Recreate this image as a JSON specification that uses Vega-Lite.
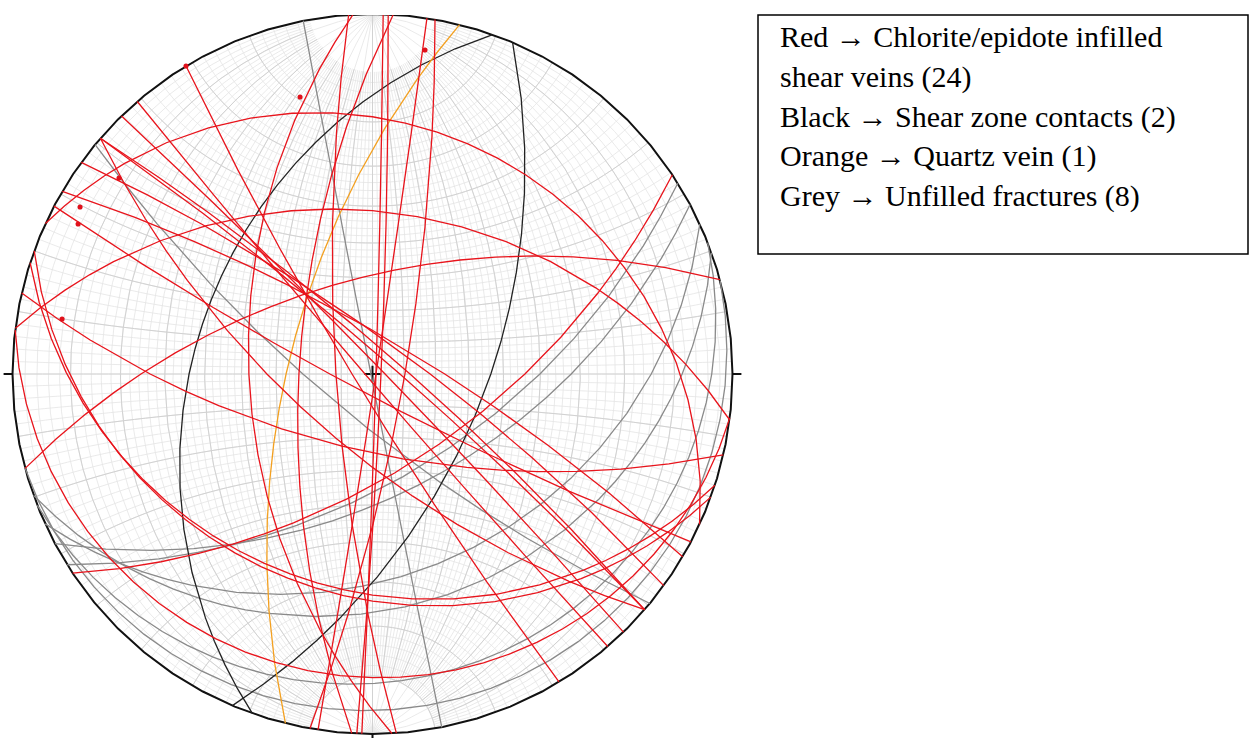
{
  "$schema": "https://vega.github.io/schema/vega-lite/v6.json",
  "padding": {"top": 14, "left": 0, "right": 0, "bottom": 0},
  "spacing": 12,
  "background": "white",
  "config": {"view": {"stroke": null}},
  "hconcat": [
    {
      "width": 745,
      "height": 724,
      "projection": {"type": "stereographic", "scale": 360, "translate": [372.5, 359], "rotate": [0, 0, 0]},
      "layer": [
        {
          "data": {"graticule": {"extentMajor": [[-90, -90], [90, 90]], "extentMinor": [[-90, -80], [90, 80]], "stepMinor": [2, 2], "stepMajor": [10, 360]}},
          "mark": {"type": "geoshape", "filled": false, "stroke": "#e4e4e4", "strokeWidth": 0.8}
        },
        {
          "data": {"graticule": {"extentMajor": [[-90, -90], [90, 90]], "extentMinor": [[-90, -80], [90, 80]], "stepMinor": [10, 10], "stepMajor": [90, 360]}},
          "mark": {"type": "geoshape", "filled": false, "stroke": "#d2d2d2", "strokeWidth": 1}
        },
        {
          "data": {"values": [
            {"part": "primitive", "geo": {"type": "MultiLineString", "coordinates": [[[90, -90], [90, -45], [90, 0], [90, 45], [90, 90]], [[-90, -90], [-90, -45], [-90, 0], [-90, 45], [-90, 90]]]}},
            {"part": "ticks", "geo": {"type": "MultiLineString", "coordinates": [[[0, 90], [180, 88.6]], [[0, -90], [180, -88.6]], [[90, 0], [91.4, 0]], [[-90, 0], [-91.4, 0]], [[-2.6, 0], [2.6, 0]], [[0, -2.6], [0, 2.6]]]}}
          ]},
          "mark": {"type": "geoshape", "filled": false, "stroke": "#111111", "strokeWidth": 2},
          "encoding": {"shape": {"field": "geo", "type": "geojson"}}
        },
        {
          "data": {"values": [
            {"kind": "Grey", "geo": {"type": "LineString", "coordinates": [[90, -78.9], [-0.5, 0], [-90, 78.9]]}},
            {"kind": "Grey", "geo": {"type": "LineString", "coordinates": [[90, -39.6], [-21.9, 0], [-90, 39.6]]}},
            {"kind": "Grey", "geo": {"type": "LineString", "coordinates": [[90, 28.1], [57.8, 0], [-90, -28.1]]}},
            {"kind": "Grey", "geo": {"type": "LineString", "coordinates": [[90, 24.6], [75.5, 0], [-90, -24.6]]}},
            {"kind": "Grey", "geo": {"type": "LineString", "coordinates": [[90, 19.7], [81.4, 0], [-90, -19.7]]}},
            {"kind": "Grey", "geo": {"type": "LineString", "coordinates": [[90, 21.4], [86.6, 0], [-90, -21.4]]}},
            {"kind": "Grey", "geo": {"type": "LineString", "coordinates": [[90, 15], [74.9, -74.5], [-90, -15]]}},
            {"kind": "Grey", "geo": {"type": "LineString", "coordinates": [[90, 32], [49.9, 0], [-90, -32]]}},
            {"kind": "Black", "geo": {"type": "LineString", "coordinates": [[90, 70.5], [-54, 0], [-90, -70.5]]}},
            {"kind": "Black", "geo": {"type": "LineString", "coordinates": [[90, 67.1], [36.4, 0], [-90, -67.1]]}},
            {"kind": "Orange", "geo": {"type": "LineString", "coordinates": [[90, 76], [-27, 0], [-90, -76]]}},
            {"kind": "Red", "geo": {"type": "LineString", "coordinates": [[90, -86.9], [-37.9, 0], [-90, 86.9]]}},
            {"kind": "Red", "geo": {"type": "LineString", "coordinates": [[90, -86.2], [-11.6, 0], [-90, 86.2]]}},
            {"kind": "Red", "geo": {"type": "LineString", "coordinates": [[90, 88.3], [1.1, 0], [-90, -88.3]]}},
            {"kind": "Red", "geo": {"type": "LineString", "coordinates": [[90, 87.5], [2.7, 0], [-90, -87.5]]}},
            {"kind": "Red", "geo": {"type": "LineString", "coordinates": [[90, 86.7], [-23.1, 0], [-90, -86.7]]}},
            {"kind": "Red", "geo": {"type": "LineString", "coordinates": [[90, 81.3], [1.1, 0], [-90, -81.3]]}},
            {"kind": "Red", "geo": {"type": "LineString", "coordinates": [[90, 80], [10.3, 0], [-90, -80]]}},
            {"kind": "Red", "geo": {"type": "LineString", "coordinates": [[90, -24.7], [0, 71.1], [-90, 24.7]]}},
            {"kind": "Red", "geo": {"type": "LineString", "coordinates": [[90, -7.3], [0, 48.8], [-90, 7.3]]}},
            {"kind": "Red", "geo": {"type": "LineString", "coordinates": [[90, -18], [0, -63.1], [-90, 18]]}},
            {"kind": "Red", "geo": {"type": "LineString", "coordinates": [[90, -20], [0, -64.5], [-90, 20]]}},
            {"kind": "Red", "geo": {"type": "LineString", "coordinates": [[90, -7], [0, -80.3], [-90, 7]]}},
            {"kind": "Red", "geo": {"type": "LineString", "coordinates": [[90, -58.8], [-6.5, 0], [-90, 58.8]]}},
            {"kind": "Red", "geo": {"type": "LineString", "coordinates": [[90, -49.2], [-2.4, 0], [-90, 49.2]]}},
            {"kind": "Red", "geo": {"type": "LineString", "coordinates": [[90, -45.8], [4, 0], [-90, 45.8]]}},
            {"kind": "Red", "geo": {"type": "LineString", "coordinates": [[90, -40.9], [8.7, 0], [-90, 40.9]]}},
            {"kind": "Red", "geo": {"type": "LineString", "coordinates": [[90, -40.9], [-32.7, 0], [-90, 40.9]]}},
            {"kind": "Red", "geo": {"type": "LineString", "coordinates": [[90, -40.9], [11.9, 0], [-90, 40.9]]}},
            {"kind": "Red", "geo": {"type": "LineString", "coordinates": [[90, -36], [18.2, 0], [-90, 36]]}},
            {"kind": "Red", "geo": {"type": "LineString", "coordinates": [[90, -30.5], [22.7, 0], [-90, 30.5]]}},
            {"kind": "Red", "geo": {"type": "LineString", "coordinates": [[90, 33.6], [45.9, 0], [-90, -33.6]]}},
            {"kind": "Red", "geo": {"type": "LineString", "coordinates": [[90, 15.2], [-65.5, 0], [-90, -15.2]]}},
            {"kind": "Red", "geo": {"type": "LineString", "coordinates": [[90, -27.8], [-13.5, 0], [-90, 27.8]]}},
            {"kind": "Red", "geo": {"type": "LineString", "coordinates": [[90, -13], [-63.4, 0], [-90, 13]]}}
          ]},
          "mark": {"type": "geoshape", "filled": false, "strokeWidth": 1.3},
          "encoding": {
            "shape": {"field": "geo", "type": "geojson"},
            "color": {
              "field": "kind",
              "type": "nominal",
              "scale": {"domain": ["Red", "Black", "Orange", "Grey"], "range": ["#e8141c", "#222222", "#f3a020", "#8a8a8a"]},
              "legend": null
            }
          }
        },
        {
          "data": {"values": [
            {"lon": -90, "lat": 58.8},
            {"lon": -47.6, "lat": 70.5},
            {"lon": 59.96, "lat": 79.4},
            {"lon": -81.6, "lat": 37.4},
            {"lon": -85.6, "lat": 29.65},
            {"lon": -84.5, "lat": 26.9},
            {"lon": -82.3, "lat": 9.96}
          ]},
          "mark": {"type": "circle", "color": "#e0101a", "opacity": 1, "size": 26},
          "encoding": {
            "longitude": {"field": "lon", "type": "quantitative"},
            "latitude": {"field": "lat", "type": "quantitative"}
          }
        }
      ]
    },
    {
      "width": 490,
      "height": 239,
      "view": {"stroke": "#000000", "strokeWidth": 1.5},
      "data": {"values": [
        {"row": 1, "text": "Red → Chlorite/epidote infilled"},
        {"row": 2, "text": "shear veins (24)"},
        {"row": 3, "text": "Black → Shear zone contacts (2)"},
        {"row": 4, "text": "Orange → Quartz vein (1)"},
        {"row": 5, "text": "Grey → Unfilled fractures (8)"}
      ]},
      "mark": {"type": "text", "align": "left", "baseline": "alphabetic", "dx": 22, "dy": 12, "font": "Liberation Serif", "fontSize": 30, "color": "#000000"},
      "encoding": {
        "x": {"value": 0},
        "y": {"field": "row", "type": "ordinal", "axis": null, "scale": {"type": "band", "domain": [1, 2, 3, 4, 5, 6], "paddingInner": 0, "paddingOuter": 0}},
        "text": {"field": "text"}
      }
    }
  ]
}
